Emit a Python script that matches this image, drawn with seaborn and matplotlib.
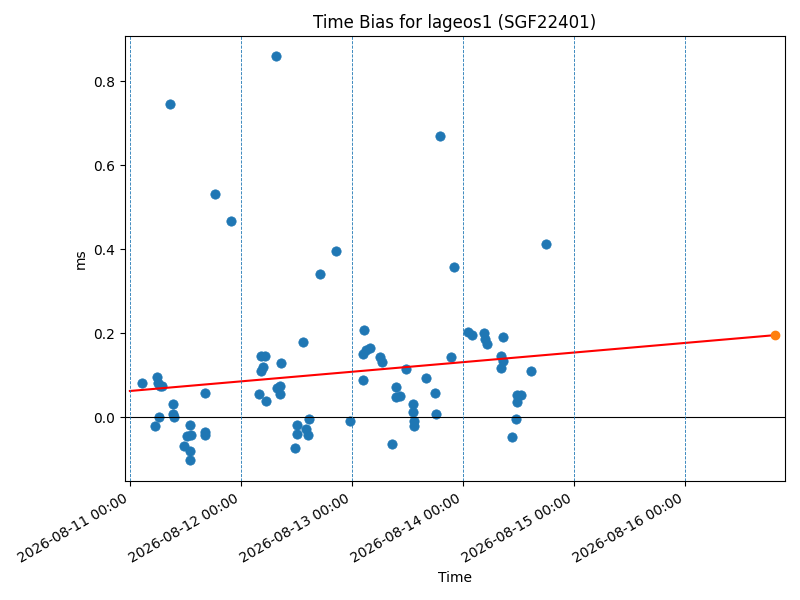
import pandas as pd
import numpy as np
import matplotlib
matplotlib.use('Agg')
import matplotlib.pyplot as plt
import matplotlib.dates as mdates
import seaborn as sns

start = pd.Timestamp('2026-08-11 00:00')

# hours since start, bias in ms
hours = [2.6, 5.4, 5.8, 6.0, 6.4, 6.9, 6.2, 8.6, 9.4, 9.4, 9.6, 11.6, 12.4, 12.9, 12.9,
         12.9, 13.3, 16.3, 16.3, 16.3, 18.4, 21.9, 27.9, 28.3, 29.1, 28.3, 28.7, 29.4,
         31.5, 31.7, 32.4, 32.4, 32.6, 35.6, 36.0, 36.0, 37.3, 38.1, 38.4, 38.8, 41.1,
         44.6, 47.6, 50.4, 50.4, 50.6, 51.0, 51.9, 54.0, 54.4, 56.6, 57.6, 57.6, 58.3,
         59.6, 61.1, 61.1, 61.3, 61.3, 63.9, 66.0, 66.2, 66.9, 69.4, 70.1, 73.1, 74.0,
         76.5, 76.7, 77.1, 80.1, 80.1, 80.6, 80.6, 82.5, 83.4, 83.6, 83.6, 84.4, 86.6,
         90.0]
bias = [0.081, -0.021, 0.095, 0.080, 0.075, 0.074, 0.000, 0.745, 0.030, 0.007, 0.000,
        -0.069, -0.045, -0.019, -0.080, -0.102, -0.043, 0.057, -0.036, -0.043, 0.532,
        0.468, 0.055, 0.145, 0.145, 0.110, 0.120, 0.038, 0.860, 0.069, 0.074, 0.055,
        0.128, -0.073, -0.019, -0.040, 0.178, -0.028, -0.043, -0.005, 0.340, 0.395,
        -0.010, 0.088, 0.149, 0.207, 0.160, 0.164, 0.143, 0.130, -0.065, 0.071, 0.048,
        0.050, 0.114, 0.030, 0.012, -0.010, -0.021, 0.093, 0.057, 0.007, 0.670, 0.143,
        0.358, 0.202, 0.195, 0.200, 0.185, 0.175, 0.145, 0.116, 0.190, 0.133, -0.047,
        -0.005, 0.052, 0.036, 0.052, 0.109, 0.413]

fit_hours = [0.0, 139.3]
fit_bias = [0.062, 0.195]

df = pd.DataFrame({'Time': start + pd.to_timedelta(hours, unit='h'), 'ms': bias})
fit = pd.DataFrame({'Time': start + pd.to_timedelta(fit_hours, unit='h'), 'ms': fit_bias})

fig, ax = plt.subplots(figsize=(8, 6), dpi=100)
sns.scatterplot(data=df, x='Time', y='ms', ax=ax, s=45, color='#1f77b4', edgecolor='#1f77b4')
ax.plot(fit['Time'], fit['ms'], color='red')
ax.scatter(fit['Time'].iloc[-1:], fit['ms'].iloc[-1:], color='#ff7f0e', zorder=3)
ax.axhline(0, color='black', linewidth=0.8)
for d in range(6):
    ax.axvline(start + pd.Timedelta(days=d), color='#1f77b4', linestyle='--', linewidth=0.6)

ax.set_xlim(start - pd.Timedelta(hours=1.1), start + pd.Timedelta(hours=141.5))
ax.set_ylim(-0.153, 0.908)
ax.xaxis.set_major_locator(mdates.DayLocator())
ax.xaxis.set_major_formatter(mdates.DateFormatter('%Y-%m-%d %H:%M'))
fig.autofmt_xdate()
ax.set_title('Time Bias for lageos1 (SGF22401)')
ax.set_xlabel('Time')
ax.set_ylabel('ms')
fig.subplots_adjust(left=0.156, right=0.981, top=0.94, bottom=0.198)
plt.savefig('out.png')
